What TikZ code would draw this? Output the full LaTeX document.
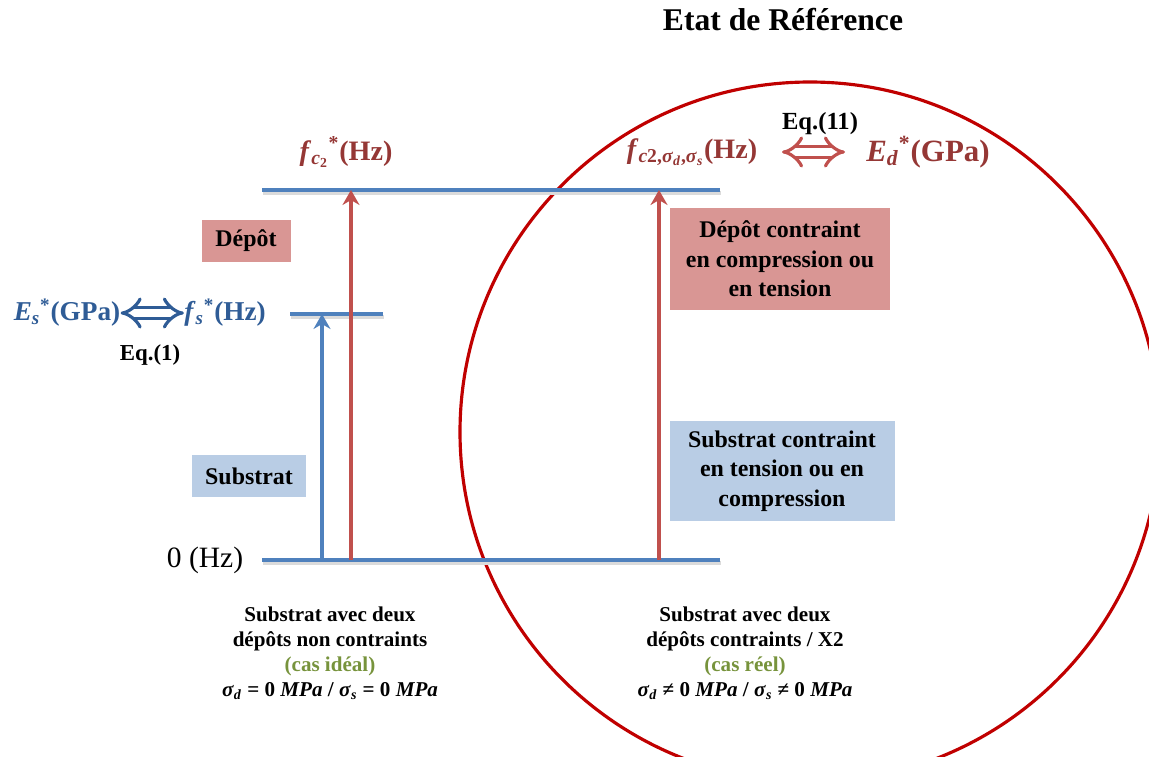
\documentclass[tikz,border=0pt]{standalone}
\usepackage{fontspec}
\setmainfont{Liberation Serif}
\usepackage{xcolor}
\usetikzlibrary{arrows.meta,positioning}
\newcommand{\bi}[1]{\textbf{\textit{#1}}}
\definecolor{levelblue}{HTML}{4F81BD}
\definecolor{arrowred}{HTML}{C0504D}
\definecolor{textred}{HTML}{953735}
\definecolor{textblue}{HTML}{2F5C96}
\definecolor{palered}{HTML}{D99694}
\definecolor{paleblue}{HTML}{B9CDE5}
\definecolor{ringred}{HTML}{C00000}
\definecolor{olive}{HTML}{77933C}

\begin{document}
\begin{tikzpicture}[
  font=\bfseries,
  level/.style={draw=levelblue,line width=2.2pt,
                preaction={draw=black!14,line width=2.4pt,
                           transform canvas={shift={(0.02,-0.06)}}}},
  upar/.style={-{Stealth[length=3mm,width=3.4mm,inset=1mm]},line width=2pt},
  box/.style={align=center,inner sep=0pt,font=\bfseries\fontsize{13.6}{16.8}\selectfont},
  redbox/.style={box,fill=palered},
  bluebox/.style={box,fill=paleblue},
  lab/.style={font=\bfseries\fontsize{16}{18}\selectfont,inner sep=0pt},
  eqv/.style={{Implies[scale=1.25]}-{Implies[scale=1.25]},double,double distance=4.2pt,line width=1.8pt},
  foot/.style={align=center,font=\bfseries\fontsize{12}{14.2}\selectfont}
]
\useasboundingbox (0,0) rectangle (22.98,-15.12);

% reference state
\node[font=\bfseries\fontsize{18}{20}\selectfont] (title) at (15.66,-0.40) {Etat de Référence};
\draw[ringred,line width=1.8pt] (16.2,-8.64) circle[radius=7.0];

% levels
\coordinate (top0) at (5.24,-3.8);   \coordinate (top1) at (14.4,-3.8);
\coordinate (mid0) at (5.8,-6.28);   \coordinate (mid1) at (7.66,-6.28);
\coordinate (bot0) at (5.24,-11.2);  \coordinate (bot1) at (14.4,-11.2);
\draw[level] (top0) -- (top1);
\draw[level] (mid0) -- (mid1);
\draw[level] (bot0) -- (bot1);

\coordinate (s0) at (6.44,-11.2);  \coordinate (s1) at (6.44,-6.28);
\coordinate (d0) at (7.02,-11.2);  \coordinate (d1) at (7.02,-3.8);
\coordinate (r0) at (13.18,-11.2); \coordinate (r1) at (13.18,-3.8);
\draw[upar,levelblue] (s0) -- (s1);
\draw[upar,arrowred]  (d0) -- (d1);
\draw[upar,arrowred]  (r0) -- (r1);

% boxes
\node[redbox,minimum width=1.78cm,minimum height=0.84cm]  (dep)  at (4.92,-4.82) {Dépôt};
\node[bluebox,minimum width=2.28cm,minimum height=0.84cm] (sub)  at (4.98,-9.52) {Substrat};
\node[redbox,minimum width=4.4cm,minimum height=2.04cm]   (depc) at (15.6,-5.18)
  {Dépôt contraint\\ en compression ou\\ en tension};
\node[bluebox,minimum width=4.5cm,minimum height=2.0cm]   (subc) at (15.64,-9.42)
  {Substrat contraint\\ en tension ou en\\ compression};

% frequency and modulus labels
\node[lab,textred] (fc) at (6.92,-3.04)
  {\bi{f}\textsubscript{\bi{c}\textsubscript{2}}\textsuperscript{*}(Hz)};
\node[lab,textred] (fcs) at (13.84,-3.04)
  {\bi{f}\textsubscript{\bi{c}2,\bi{σ}\textsubscript{\bi{d}},\bi{σ}\textsubscript{\bi{s}}}(Hz)};
\node[lab,textred,font=\bfseries\fontsize{17.6}{20}\selectfont] (ed) at (18.56,-3.04)
  {\bi{E}\textsubscript{\bi{d}}\textsuperscript{*}(GPa)};
\draw[eqv,arrowred] (15.64,-3.04) -- (16.9,-3.04);
\node[font=\bfseries\fontsize{14}{16}\selectfont] (eq11) at (16.4,-2.48) {Eq.(11)};

\node[lab,textblue,font=\bfseries\fontsize{15.5}{17}\selectfont] (es) at (1.34,-6.26)
  {\bi{E}\textsubscript{\bi{s}}\textsuperscript{*}(GPa)};
\node[lab,textblue,font=\bfseries\fontsize{15.5}{17}\selectfont] (fs) at (4.5,-6.26)
  {\bi{f}\textsubscript{\bi{s}}\textsuperscript{*}(Hz)};
\draw[eqv,textblue] (es.east) -- (fs.west);
\node[font=\bfseries\fontsize{13}{15}\selectfont] (eq1) at (3.0,-7.1) {Eq.(1)};

\node[font=\fontsize{16.8}{18}\selectfont] (zero) at (4.1,-11.2) {0 (Hz)};

% cases
\node[foot] (ideal) at (6.6,-13.06)
  {Substrat avec deux\\ dépôts non contraints\\ \textcolor{olive}{(cas idéal)}\\
   \bi{σ}\textsubscript{\bi{d}} = 0 \bi{MPa} / \bi{σ}\textsubscript{\bi{s}} = 0 \bi{MPa}};
\node[foot] (reel) at (14.9,-13.06)
  {Substrat avec deux\\ dépôts contraints / X2\\ \textcolor{olive}{(cas réel)}\\
   \bi{σ}\textsubscript{\bi{d}} ≠ 0 \bi{MPa} / \bi{σ}\textsubscript{\bi{s}} ≠ 0 \bi{MPa}};
\end{tikzpicture}
\end{document}
